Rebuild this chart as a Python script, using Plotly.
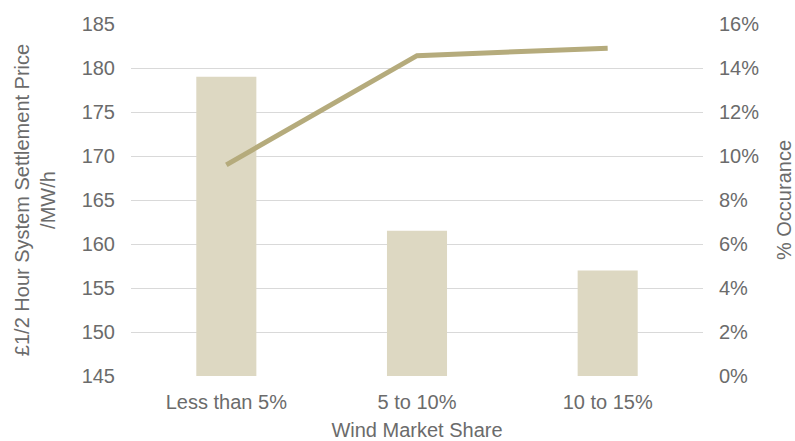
import plotly.graph_objects as go

categories = ["Less than 5%", "5 to 10%", "10 to 15%"]
price = [179.0, 161.5, 157.0]
occurrence = [0.096, 0.1456, 0.149]

font_family = "Liberation Sans, Arial, sans-serif"
text_color = "#6b6b6b"

fig = go.Figure()
fig.add_trace(go.Bar(x=categories, y=price, marker_color="#ddd8c2",
                     marker_line_width=0, yaxis="y"))
fig.add_trace(go.Scatter(x=categories, y=occurrence, mode="lines",
                         line=dict(color="#b5ab7c", width=5), yaxis="y2"))

fig.update_layout(
    width=795, height=441,
    margin=dict(l=131, r=92, t=24, b=65),
    plot_bgcolor="white", paper_bgcolor="white",
    showlegend=False,
    bargap=0.685,
    font=dict(family=font_family, size=20, color=text_color),
    xaxis=dict(type="category", showgrid=False, showline=False, ticks="",
               ticklabelstandoff=12, automargin=False,
               title=dict(text="Wind Market Share", font=dict(size=20), standoff=12),
               tickfont=dict(size=20)),
    yaxis=dict(range=[145, 185], dtick=5, showgrid=True, gridcolor="#d9d9d9",
               gridwidth=1.3, zeroline=False, showline=False, ticks="",
               tickfont=dict(size=20), ticklabelstandoff=15, automargin=False,
               title=dict(text="£1/2 Hour System Settlement Price<br>/MW/h",
                          font=dict(size=20), standoff=20)),
    yaxis2=dict(range=[0, 0.16], dtick=0.02, tickformat=".0%", overlaying="y",
                side="right", showgrid=False, zeroline=False, showline=False,
                ticks="", tickfont=dict(size=20), ticklabelstandoff=15,
                automargin=False,
                title=dict(text="% Occurance", font=dict(size=20), standoff=18)),
)

fig.write_html("out.html")
